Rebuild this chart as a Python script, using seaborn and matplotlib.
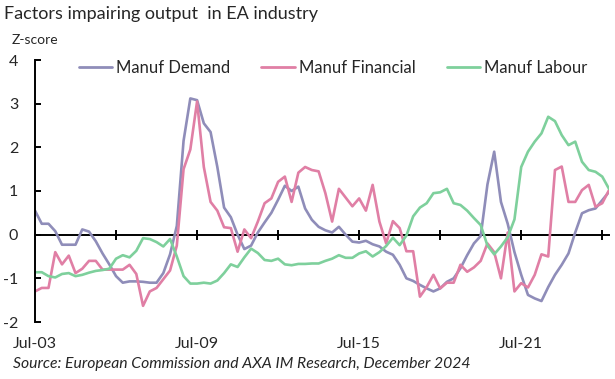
import numpy as np
import pandas as pd
import matplotlib
matplotlib.use("Agg")
import matplotlib.pyplot as plt
import seaborn as sns
from matplotlib.lines import Line2D

# ---------------- data (quarterly, Jul-03 .. Oct-24) ----------------
tick_labels = ["Jul-03", "Jul-09", "Jul-15", "Jul-21"]
label_positions = [0, 24, 48, 72]
tick_marks = [0, 12, 24, 36, 48, 60, 72, 84]

manuf_demand = [
    0.55, 0.25, 0.25, 0.08, -0.23, -0.23, -0.23, 0.12, 0.07, -0.15,
    -0.43, -0.68, -0.95, -1.10, -1.07, -1.07, -1.08, -1.10, -1.10, -0.88,
    -0.45, 0.20, 2.15, 3.12, 3.08, 2.55, 2.35, 1.55, 0.62, 0.40,
    0.00, -0.33, -0.25, 0.05, 0.28, 0.50, 0.80, 1.12, 1.00, 1.10,
    0.60, 0.34, 0.18, 0.10, 0.05, 0.18, 0.00, -0.16, -0.18, -0.14,
    -0.22, -0.27, -0.39, -0.46, -0.69, -1.00, -1.06, -1.15, -1.23, -1.30,
    -1.23, -1.08, -1.00, -0.77, -0.47, -0.20, -0.03, 1.15, 1.90, 0.75,
    0.25, -0.40, -0.92, -1.38, -1.46, -1.52, -1.20, -0.92, -0.69, -0.43,
    0.05, 0.49, 0.56, 0.60, 0.79, 0.98,
]
manuf_financial = [
    -1.30, -1.22, -1.22, -0.40, -0.68, -0.48, -0.88, -0.78, -0.60, -0.60,
    -0.80, -0.80, -0.80, -0.80, -0.69, -0.90, -1.63, -1.30, -1.22, -1.02,
    -0.82, -0.25, 1.50, 1.95, 3.05, 1.55, 0.75, 0.55, 0.17, 0.15,
    -0.39, 0.12, -0.08, 0.30, 0.72, 0.83, 1.21, 1.33, 0.75, 1.42,
    1.55, 1.48, 1.45, 0.95, 0.30, 1.05, 0.85, 0.65, 0.83, 0.55,
    1.14, 0.30, -0.20, 0.31, 0.15, -0.38, -0.38, -1.42, -1.20, -0.92,
    -1.23, -1.10, -1.10, -0.69, -0.85, -0.75, -0.60, -0.20, -0.40, -1.00,
    0.05, -1.30, -1.11, -1.21, -0.92, -0.45, -0.50, 1.48, 1.56, 0.75,
    0.75, 1.02, 1.14, 0.64, 0.72, 1.02,
]
manuf_labour = [
    -0.86, -0.86, -0.95, -0.98, -0.90, -0.88, -0.95, -0.92, -0.87, -0.83,
    -0.81, -0.78, -0.55, -0.47, -0.52, -0.37, -0.08, -0.10, -0.17, -0.27,
    -0.10, -0.50, -0.95, -1.12, -1.12, -1.10, -1.12, -1.05, -0.88, -0.68,
    -0.74, -0.52, -0.32, -0.42, -0.58, -0.60, -0.55, -0.68, -0.70, -0.67,
    -0.67, -0.66, -0.66, -0.60, -0.55, -0.47, -0.53, -0.53, -0.43, -0.38,
    -0.50, -0.40, -0.26, -0.07, -0.24, -0.02, 0.42, 0.62, 0.72, 0.95,
    0.97, 1.05, 0.72, 0.68, 0.55, 0.38, 0.22, -0.25, -0.45, -0.27,
    -0.06, 0.35, 1.55, 1.90, 2.13, 2.32, 2.70, 2.60, 2.28, 2.05,
    2.13, 1.67, 1.48, 1.44, 1.33, 1.05,
]
series_names = ["Manuf Demand", "Manuf Financial", "Manuf Labour"]
series_colors = ["#8F8DB9", "#E07FA5", "#7ED09C"]

# ---------------- build long-form table ----------------
quarter = np.arange(len(manuf_demand))
df = pd.concat([
    pd.DataFrame({"q": quarter, "value": vals, "series": name})
    for name, vals in zip(series_names, [manuf_demand, manuf_financial, manuf_labour])
])

sns.set_style("white")
plt.rcParams["font.family"] = ["Lato", "DejaVu Sans"]
plt.rcParams["axes.unicode_minus"] = False
text_color = "#262626"

fig = plt.figure(figsize=(6.15, 3.79), dpi=100)
ax = fig.add_axes([35 / 615, 1 - 322 / 379, (609 - 35) / 615, (322 - 60) / 379])

sns.lineplot(data=df, x="q", y="value", hue="series", hue_order=series_names,
             palette=dict(zip(series_names, series_colors)), linewidth=1.9,
             ax=ax, legend=False, sort=False)

ax.set_xlim(0, len(manuf_demand) - 1)
ax.set_ylim(-2, 4)
ax.set_yticks([-2, -1, 0, 1, 2, 3, 4])
ax.set_xlabel("")
ax.set_ylabel("")

for s in ["top", "right"]:
    ax.spines[s].set_visible(False)
ax.spines["left"].set_color("black")
ax.spines["left"].set_linewidth(1.4)
ax.spines["bottom"].set_position(("data", 0))
ax.spines["bottom"].set_color("black")
ax.spines["bottom"].set_linewidth(1.4)
ax.spines["bottom"].set_zorder(1)

ax.set_xticks(tick_marks)
ax.tick_params(axis="x", direction="inout", length=7, width=1.4, color="black",
               labelbottom=False, bottom=True)
ax.tick_params(axis="y", direction="in", length=4, width=1.4, color="black",
               labelsize=11.5, labelcolor=text_color, pad=12, left=True)

sec = ax.secondary_xaxis(location=0)
sec.set_xticks(label_positions)
sec.set_xticklabels(tick_labels)
sec.spines["bottom"].set_visible(False)
sec.tick_params(axis="x", length=0, pad=11, labelsize=11.5, labelcolor=text_color)

# legend
handles = [Line2D([], [], color=c, lw=2.0) for c in series_colors]
fig.legend(handles, series_names, loc="center left",
           bbox_to_anchor=(64 / 615, 1 - 68 / 379), ncol=3, frameon=False,
           fontsize=12, handlelength=2.0, handletextpad=0.25,
           columnspacing=1.85, labelcolor=text_color)

fig.text(4 / 615, 1 - 14 / 379, "Factors impairing output  in EA industry",
         fontsize=13, color=text_color, va="center", ha="left")
fig.text(12 / 615, 1 - 40 / 379, "Z-score", fontsize=10, color=text_color,
         va="center", ha="left")
fig.text(13 / 615, 1 - 364 / 379,
         "Source: European Commission and AXA IM Research, December 2024",
         fontsize=11.3, style="italic", color=text_color, va="center", ha="left")

fig.savefig("out.png", dpi=100)
